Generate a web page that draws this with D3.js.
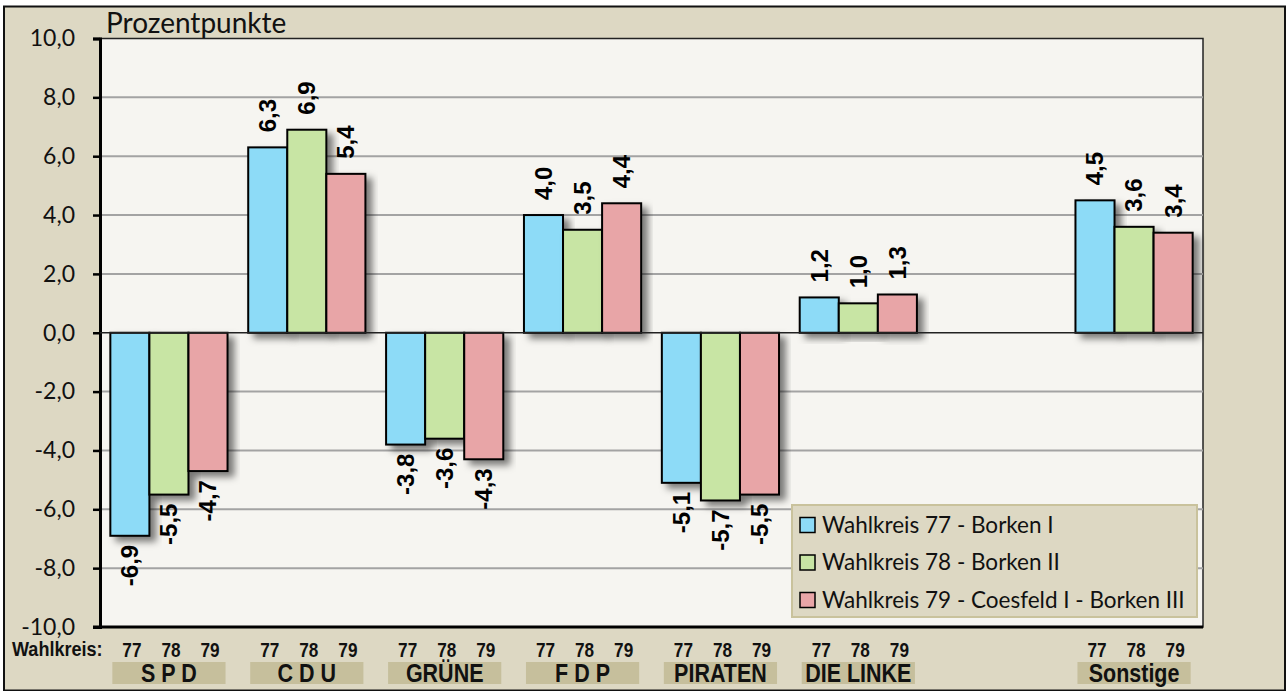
<!DOCTYPE html>
<html>
<head>
<meta charset="utf-8">
<script src="https://cdn.jsdelivr.net/npm/d3@7"></script>
<style>
  html, body { margin: 0; padding: 0; background: #fff; }
  svg { display: block; }
</style>
</head>
<body>
<div id="chart"></div>
<script>
// données
const categories = ["S P D", "C D U", "GRÜNE", "F D P", "PIRATEN", "DIE LINKE", "", "Sonstige"];
const wahlkreise = ["77", "78", "79"];
const series77 = [-6.9, 6.3, -3.8, 4.0, -5.1, 1.2, null, 4.5];
const series78 = [-5.5, 6.9, -3.6, 3.5, -5.7, 1.0, null, 3.6];
const series79 = [-4.7, 5.4, -4.3, 4.4, -5.5, 1.3, null, 3.4];
const legendLabels = ["Wahlkreis 77 - Borken I", "Wahlkreis 78 - Borken II", "Wahlkreis 79 - Coesfeld I - Borken III"];
const yTicks = [-10, -8, -6, -4, -2, 0, 2, 4, 6, 8, 10];
const colors = ["#8ddbf7", "#c8e5a4", "#e8a5a7"];

const seriesList = [series77, series78, series79];

const W = 1286, H = 691;
const plot = { left: 100, right: 1203, top: 38.5, bottom: 627 };

const svg = d3.select("#chart").append("svg")
  .attr("width", W)
  .attr("height", H);

// ombre des barres
const defs = svg.append("defs");
const f = defs.append("filter").attr("id", "shadow")
  .attr("x", "-20%").attr("y", "-20%").attr("width", "150%").attr("height", "150%");
f.append("feDropShadow")
  .attr("dx", 6).attr("dy", 5)
  .attr("stdDeviation", 3.5)
  .attr("flood-color", "#000")
  .attr("flood-opacity", 0.5);

// fond
svg.append("rect")
  .attr("x", 4).attr("y", 6.5)
  .attr("width", 1281).attr("height", 684)
  .attr("fill", "#ddd8c3")
  .attr("stroke", "#111")
  .attr("stroke-width", 2);

svg.append("rect")
  .attr("x", plot.left).attr("y", plot.top)
  .attr("width", plot.right - plot.left)
  .attr("height", plot.bottom - plot.top)
  .attr("fill", "#f6f5f1")
  .attr("stroke", "#222")
  .attr("stroke-width", 1.5);

// échelles
const y = d3.scaleLinear().domain([-10, 10]).range([plot.bottom, plot.top]);

const x0 = d3.scaleBand()
  .domain(categories)
  .range([plot.left, plot.right])
  .paddingInner(0.15)
  .paddingOuter(0.075);

const x1 = d3.scaleBand()
  .domain(wahlkreise)
  .range([0, x0.bandwidth()]);

const fmt = v => d3.format(".1f")(v).replace(".", ",").replace("−", "-");

// grille
svg.append("g")
  .selectAll("line")
  .data(yTicks.filter(t => t > -10 && t < 10 && t !== 0))
  .enter()
  .append("line")
  .attr("x1", plot.left).attr("x2", plot.right)
  .attr("y1", d => y(d)).attr("y2", d => y(d))
  .attr("stroke", "#a3a3a3")
  .attr("stroke-width", 2);

// axe Y
const yAxis = svg.append("g")
  .attr("transform", `translate(${plot.left},0)`)
  .call(d3.axisLeft(y).tickValues(yTicks).tickSize(7).tickPadding(18).tickFormat(fmt));
yAxis.select(".domain").attr("stroke", "#000").attr("stroke-width", 3);
yAxis.selectAll(".tick line").attr("stroke", "#000").attr("stroke-width", 2.5);
yAxis.selectAll(".tick text")
  .attr("fill", "#111")
  .style("font-family", "Lato, 'Open Sans', sans-serif")
  .style("font-size", "23px");

// titre axe
svg.append("text")
  .attr("x", 106).attr("y", 33)
  .style("font-family", "Lato, 'Open Sans', sans-serif")
  .style("font-size", "28px")
  .attr("fill", "#111")
  .text("Prozentpunkte");

// barres
const groups = svg.append("g")
  .selectAll("g")
  .data(categories)
  .enter()
  .append("g")
  .attr("transform", d => `translate(${x0(d)},0)`);

const barData = (c, i) => wahlkreise.map((w, j) => ({ w, j, v: seriesList[j][i] })).filter(d => d.v != null);

groups.selectAll("rect")
  .data(barData)
  .enter()
  .append("rect")
  .attr("x", d => x1(d.w))
  .attr("y", d => y(Math.max(0, d.v)))
  .attr("width", x1.bandwidth())
  .attr("height", d => Math.abs(y(d.v) - y(0)))
  .attr("fill", d => colors[d.j])
  .attr("stroke", "#000")
  .attr("stroke-width", 2)
  .attr("filter", "url(#shadow)");

// ligne zéro
svg.append("line")
  .attr("x1", plot.left).attr("x2", plot.right)
  .attr("y1", y(0)).attr("y2", y(0))
  .attr("stroke", "#222")
  .attr("stroke-width", 1.5);

// étiquettes des valeurs
groups.selectAll("text.val")
  .data(barData)
  .enter()
  .append("text")
  .attr("class", "val")
  .attr("transform", d => {
    const cx = x1(d.w) + x1.bandwidth() / 2;
    const yy = d.v >= 0 ? y(d.v) - 15 : y(d.v) + 9;
    return `translate(${cx},${yy}) rotate(-90)`;
  })
  .attr("dy", "0.35em")
  .attr("text-anchor", d => d.v >= 0 ? "start" : "end")
  .style("font-family", "'Liberation Sans', Arial, sans-serif")
  .style("font-weight", "bold")
  .style("font-size", "24px")
  .attr("fill", "#000")
  .text(d => fmt(d.v));

// axe du bas
svg.append("line")
  .attr("x1", plot.left - 7).attr("x2", plot.right)
  .attr("y1", plot.bottom).attr("y2", plot.bottom)
  .attr("stroke", "#000")
  .attr("stroke-width", 3);

// texte condensé (mise à l'échelle horizontale)
const sqz = 0.86;
const font = "'Liberation Sans', Arial, sans-serif";

svg.append("text")
  .attr("transform", `translate(12,656) scale(${sqz},1)`)
  .style("font-family", font)
  .style("font-weight", "bold")
  .style("font-size", "21px")
  .attr("fill", "#111")
  .text("Wahlkreis:");

const shown = categories.filter(c => c !== "");

svg.append("g")
  .selectAll("g")
  .data(shown)
  .enter()
  .append("g")
  .attr("transform", d => `translate(${x0(d)},0)`)
  .selectAll("text")
  .data(wahlkreise)
  .enter()
  .append("text")
  .attr("transform", d => `translate(${x1(d) + x1.bandwidth() / 2 + 2},657) scale(${sqz},1)`)
  .attr("text-anchor", "middle")
  .style("font-family", font)
  .style("font-weight", "bold")
  .style("font-size", "20px")
  .attr("fill", "#111")
  .text(d => d);

// étiquettes des partis
const party = svg.append("g")
  .selectAll("g")
  .data(shown)
  .enter()
  .append("g");

party.append("rect")
  .attr("x", d => x0(d) + 2)
  .attr("y", 662)
  .attr("width", x0.bandwidth() - 4)
  .attr("height", 22)
  .attr("fill", "#c6bf9c");

party.append("text")
  .attr("transform", d => `translate(${x0(d) + x0.bandwidth() / 2},682) scale(${sqz},1)`)
  .attr("text-anchor", "middle")
  .style("font-family", font)
  .style("font-weight", "bold")
  .style("font-size", "25px")
  .attr("fill", "#111")
  .text(d => d);

// légende
const lg = svg.append("g").attr("transform", "translate(792,505)");
lg.append("rect")
  .attr("width", 405).attr("height", 112)
  .attr("fill", "#ddd8c3")
  .attr("stroke", "#c9c29c")
  .attr("stroke-width", 2);

const item = lg.selectAll("g")
  .data(legendLabels)
  .enter()
  .append("g")
  .attr("transform", (d, i) => `translate(0,${20 + i * 37.5})`);

item.append("rect")
  .attr("x", 8).attr("y", -7.5)
  .attr("width", 15).attr("height", 15)
  .attr("fill", (d, i) => colors[i])
  .attr("stroke", "#000")
  .attr("stroke-width", 1.5);

item.append("text")
  .attr("x", 30).attr("y", 0)
  .attr("dy", "0.35em")
  .style("font-family", "Lato, 'Open Sans', sans-serif")
  .style("font-size", "22.5px")
  .attr("fill", "#111")
  .text(d => d);
</script>
</body>
</html>
